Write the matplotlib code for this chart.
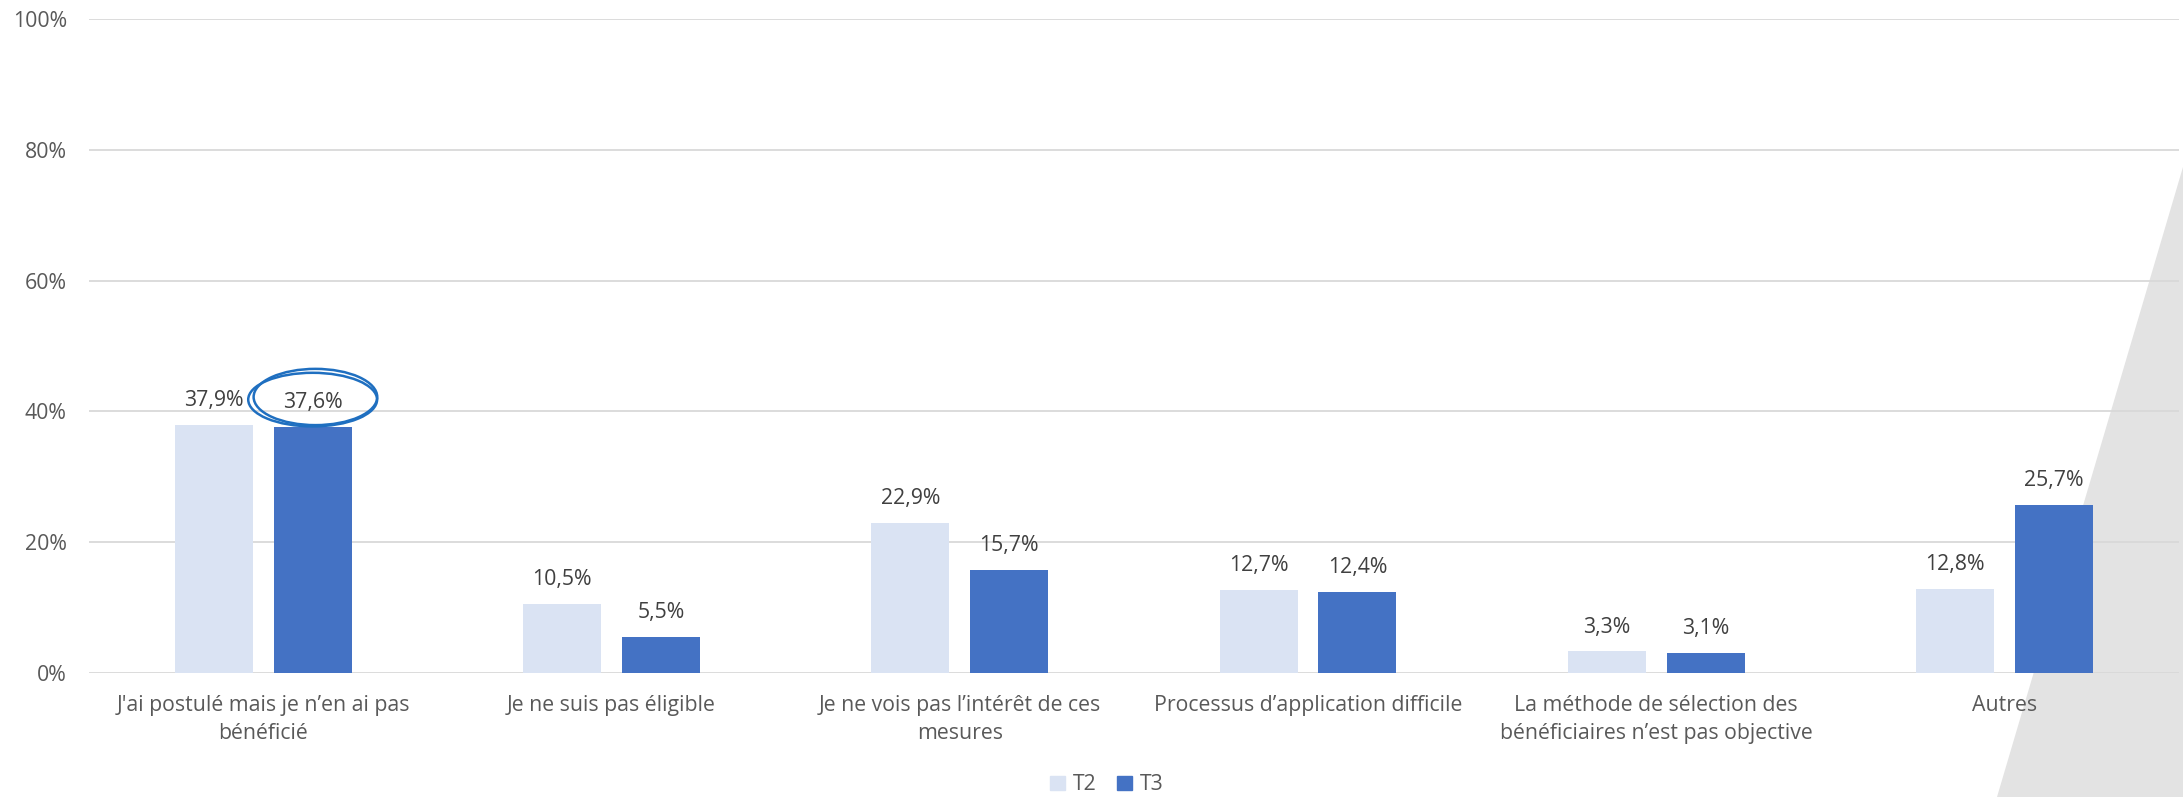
import numpy as np
import matplotlib.pyplot as plt
from matplotlib.patches import Ellipse, Polygon, Patch

plt.rcParams['font.family'] = ['Open Sans', 'DejaVu Sans']

categories = [
    "J'ai postulé mais je n’en ai pas\nbénéficié",
    "Je ne suis pas éligible",
    "Je ne vois pas l’intérêt de ces\nmesures",
    "Processus d’application difficile",
    "La méthode de sélection des\nbénéficiaires n’est pas objective",
    "Autres",
]
t2 = [37.9, 10.5, 22.9, 12.7, 3.3, 12.8]
t3 = [37.6, 5.5, 15.7, 12.4, 3.1, 25.7]
series_names = ["T2", "T3"]
yticks = [0, 20, 40, 60, 80, 100]

c_t2 = "#dae3f3"
c_t3 = "#4472c4"
txt = "#595959"
fs = 15.3

fig = plt.figure(figsize=(21.83, 7.97), dpi=100)

# decorative grey wedge in the lower right corner (behind the chart)
wedge = Polygon([[1.0, 0.79], [1.0, 0.0], [0.915, 0.0]], closed=True,
                transform=fig.transFigure, facecolor="#e3e3e3", edgecolor="none", zorder=-5)
fig.patches.append(wedge)

ax = fig.add_axes([0.0408, 0.1556, 0.9572, 0.8206])
ax.patch.set_alpha(0)
ax.set_zorder(2)

x = np.arange(len(categories))
w = 0.224
off = 0.142
b2 = ax.bar(x - off, t2, w, color=c_t2, zorder=2)
b3 = ax.bar(x + off, t3, w, color=c_t3, zorder=2)

for bars, vals in ((b2, t2), (b3, t3)):
    for r, v in zip(bars, vals):
        ax.annotate(f"{v:.1f}%".replace(".", ","), (r.get_x() + r.get_width() / 2, v),
                    xytext=(0, 10), textcoords="offset points", ha="center", va="bottom",
                    fontsize=fs, color="#404040")

# hand-drawn highlight around the first T3 label
for dx, dy, ww, hh in ((0.0, 0.0, 0.37, 8.2), (0.008, 0.4, 0.355, 8.6)):
    ax.add_patch(Ellipse((x[0] + off + dx, t3[0] + 4.2 + dy), ww, hh,
                         fill=False, edgecolor="#1f6fc0", lw=1.8, zorder=5, clip_on=False))

ax.set_xlim(-0.5, len(categories) - 0.5)
ax.set_ylim(0, 100)
ax.set_yticks(yticks)
ax.set_yticklabels([f"{t}%" for t in yticks])
ax.set_xticks(x)
ax.set_xticklabels(categories, linespacing=1.45)
ax.tick_params(axis="y", length=0, pad=16, labelsize=fs, labelcolor=txt)
ax.tick_params(axis="x", length=0, pad=16, labelsize=fs, labelcolor=txt)
ax.grid(axis="y", color="#d9d9d9", lw=1.3, zorder=1)
for s in ax.spines.values():
    s.set_visible(False)

handles = [Patch(color=c_t2), Patch(color=c_t3)]
fig.legend(handles, series_names, loc="lower center", bbox_to_anchor=(0.507, -0.022),
           ncol=2, frameon=False, fontsize=fs, labelcolor=txt,
           handlelength=0.7, handleheight=0.7, handletextpad=0.35, columnspacing=1.0)

fig.savefig("out.png", dpi=100)
